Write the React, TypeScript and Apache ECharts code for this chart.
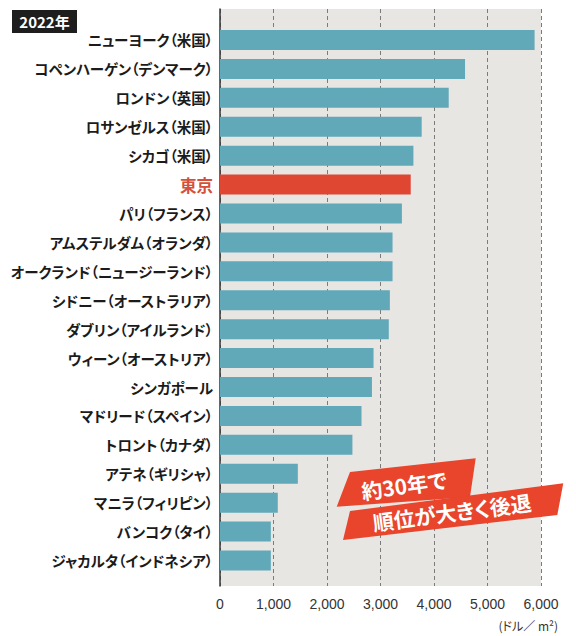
import React, { useEffect, useRef } from "react";
import * as echarts from "echarts";

const cities = [
  "ニューヨーク（米国）",
  "コペンハーゲン（デンマーク）",
  "ロンドン（英国）",
  "ロサンゼルス（米国）",
  "シカゴ（米国）",
  "東京",
  "パリ（フランス）",
  "アムステルダム（オランダ）",
  "オークランド（ニュージーランド）",
  "シドニー（オーストラリア）",
  "ダブリン（アイルランド）",
  "ウィーン（オーストリア）",
  "シンガポール",
  "マドリード（スペイン）",
  "トロント（カナダ）",
  "アテネ（ギリシャ）",
  "マニラ（フィリピン）",
  "バンコク（タイ）",
  "ジャカルタ（インドネシア）",
];
const values = [5880, 4580, 4275, 3770, 3615, 3565, 3400, 3225, 3225, 3175, 3155, 2870, 2840, 2645, 2475, 1455, 1080, 950, 950];
const highlight = "東京";
const yearLabel = "2022年";
const unitLabel = "(ドル／ m²)";
const noteLine1 = "約30年で";
const noteLine2 = "順位が大きく後退";
const xMin = 0;
const xMax = 6000;
const xStep = 1000;

const FONT = "'Noto Sans CJK JP', 'Noto Sans', sans-serif";
const TEAL = "#61a8b9";
const RED = "#df4733";

export default function App() {
  const ref = useRef<HTMLDivElement>(null);
  useEffect(() => {
    if (!ref.current) return;
    const chart = echarts.init(ref.current, undefined, { renderer: "svg" });
    chart.setOption({
      animation: false,
      textStyle: { fontFamily: FONT },
      grid: [
        { left: 220, width: 321, top: 25.5, height: 549.5, containLabel: false, outerBoundsMode: "none" },
        {
          left: 220,
          width: 321,
          top: 9,
          height: 577,
          show: true,
          backgroundColor: "#e7e6e3",
          borderWidth: 0,
          containLabel: false,
          outerBoundsMode: "none",
        },
      ],
      xAxis: [
        { gridIndex: 0, type: "value", min: xMin, max: xMax, interval: xStep, show: false },
        {
          gridIndex: 1,
          type: "value",
          min: xMin,
          max: xMax,
          interval: xStep,
          axisLine: { show: false },
          axisTick: { show: false },
          splitLine: { show: true, lineStyle: { color: "#7b7b7b", width: 1, type: [4, 3] } },
          axisLabel: {
            margin: 11,
            fontSize: 14,
            color: "#333",
            fontFamily: "'Liberation Sans', Arial, sans-serif",
            formatter: (v: number) => v.toLocaleString("en-US"),
          },
        },
      ],
      yAxis: [
        {
          gridIndex: 0,
          type: "category",
          inverse: true,
          data: cities.map((c) =>
            c === highlight
              ? { value: c, textStyle: { color: "#d4503a", fontSize: 16.5, fontWeight: "bold" } }
              : c
          ),
          axisLine: { show: false },
          axisTick: { show: false },
          splitLine: { show: false },
          axisLabel: { margin: 7, fontSize: 14.5, color: "#1b1b1b", fontWeight: "bold", fontFamily: FONT },
        },
        {
          gridIndex: 1,
          type: "value",
          min: 0,
          max: 1,
          axisLine: { show: true, lineStyle: { color: "#333", width: 1.5 } },
          axisTick: { show: false },
          axisLabel: { show: false },
          splitLine: { show: false },
        },
      ],
      series: [
        {
          type: "bar",
          xAxisIndex: 0,
          yAxisIndex: 0,
          barWidth: 20,
          data: values.map((v, i) => ({
            value: v,
            itemStyle: { color: cities[i] === highlight ? RED : TEAL },
          })),
        },
      ],
      graphic: [
        {
          type: "group",
          children: [
            { type: "rect", shape: { x: 12, y: 10, width: 65, height: 23 }, style: { fill: "#1e1e1e" } },
            {
              type: "text",
              x: 44.5,
              y: 21.5,
              style: { text: yearLabel, fill: "#fff", fontSize: 15, fontWeight: "bold", fontFamily: FONT, align: "center", verticalAlign: "middle" },
            },
          ],
        },
        {
          type: "text",
          x: 558,
          y: 625,
          style: { text: unitLabel, fill: "#333", fontSize: 12, fontFamily: FONT, align: "right", verticalAlign: "middle" },
        },
        {
          type: "polygon",
          z: 10,
          shape: { points: [[350, 472], [475.7, 458.3], [470, 497], [336.7, 506.7]] },
          style: { fill: "#e8452c" },
        },
        {
          type: "polygon",
          z: 10,
          shape: { points: [[350, 511], [563.3, 483.3], [557.3, 515], [343, 540]] },
          style: { fill: "#e8452c" },
        },
        {
          type: "text",
          z: 11,
          x: 404,
          y: 485,
          rotation: 0.14,
          style: { text: noteLine1, fill: "#fff", fontSize: 21, fontWeight: "bold", fontFamily: FONT, align: "center", verticalAlign: "middle" },
        },
        {
          type: "text",
          z: 11,
          x: 452,
          y: 512,
          rotation: 0.13,
          style: { text: noteLine2, fill: "#fff", fontSize: 21, fontWeight: "bold", fontFamily: FONT, align: "center", verticalAlign: "middle" },
        },
      ],
    });
    return () => chart.dispose();
  }, []);
  return (
    <div
      ref={ref}
      style={{ position: "absolute", left: 0, top: 0, width: 576, height: 636, fontFeatureSettings: '"palt"' }}
    />
  );
}
